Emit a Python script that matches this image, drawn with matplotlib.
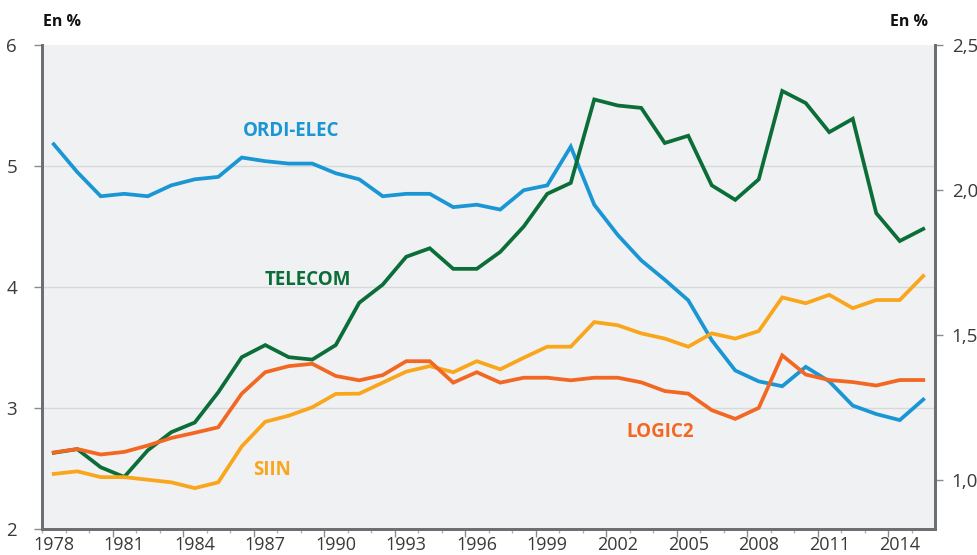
import matplotlib
matplotlib.use("Agg")
import matplotlib.pyplot as plt
from matplotlib.ticker import FixedLocator, FuncFormatter

plt.rcParams['font.family'] = ['Open Sans', 'DejaVu Sans']

years = list(range(1978, 2016))

ordi_elec = [5.18, 4.95, 4.75, 4.77, 4.75, 4.84, 4.89, 4.91, 5.07, 5.04, 5.02, 5.02,
             4.94, 4.89, 4.75, 4.77, 4.77, 4.66, 4.68, 4.64, 4.80, 4.84, 5.16, 4.68,
             4.43, 4.22, 4.06, 3.89, 3.56, 3.31, 3.22, 3.18, 3.34, 3.22, 3.02, 2.95,
             2.90, 3.07]
telecom = [2.63, 2.66, 2.51, 2.43, 2.65, 2.80, 2.88, 3.13, 3.42, 3.52, 3.42, 3.40,
           3.52, 3.87, 4.02, 4.25, 4.32, 4.15, 4.15, 4.29, 4.50, 4.77, 4.86, 5.55,
           5.50, 5.48, 5.19, 5.25, 4.84, 4.72, 4.89, 5.62, 5.52, 5.28, 5.39, 4.61,
           4.38, 4.48]
logic2 = [1.094, 1.106, 1.087, 1.096, 1.118, 1.144, 1.162, 1.181, 1.297, 1.371, 1.392, 1.400,
          1.358, 1.343, 1.361, 1.409, 1.409, 1.335, 1.371, 1.335, 1.352, 1.352, 1.343, 1.352,
          1.352, 1.336, 1.306, 1.297, 1.240, 1.210, 1.248, 1.429, 1.363, 1.344, 1.337, 1.325,
          1.344, 1.344]
siin = [1.020, 1.029, 1.009, 1.009, 1.000, 0.991, 0.971, 0.991, 1.115, 1.200, 1.221, 1.250,
        1.296, 1.297, 1.335, 1.373, 1.392, 1.371, 1.409, 1.381, 1.421, 1.459, 1.459, 1.544,
        1.533, 1.505, 1.487, 1.459, 1.505, 1.487, 1.513, 1.629, 1.609, 1.638, 1.592, 1.620,
        1.620, 1.703]

xtick_years = list(range(1978, 2016, 3))
left_ticks = [2, 3, 4, 5, 6]
right_ticks = [1.0, 1.5, 2.0, 2.5]

C_BLUE = '#1a96d5'
C_GREEN = '#0b6e38'
C_RED = '#f26722'
C_ORANGE = '#f9a61c'
C_SPINE = '#6d6e71'
C_TEXT = '#3a3a3a'

fig = plt.figure(figsize=(9.77, 5.55), dpi=100)
ax = fig.add_axes([42/977, 1-529/555, (935-42)/977, (529-45)/555])
ax.set_facecolor('#f0f1f3')
ax2 = ax.twinx()

ax.set_xlim(1977.5, 2015.5)
ax.set_ylim(2, 6)
ax2.set_ylim(0.83, 2.5)

lw = 2.7
ax.plot(years, ordi_elec, color=C_BLUE, lw=lw, solid_joinstyle='miter', zorder=3)
ax.plot(years, telecom, color=C_GREEN, lw=lw, solid_joinstyle='miter', zorder=3)
ax2.plot(years, siin, color=C_ORANGE, lw=lw, solid_joinstyle='miter', zorder=3)
ax2.plot(years, logic2, color=C_RED, lw=lw, solid_joinstyle='miter', zorder=3)

# grid
for v in [3, 4, 5]:
    ax.axhline(v, color='#d6d8db', lw=1.0, zorder=1)

# spines
for a in (ax, ax2):
    a.spines['top'].set_visible(False)
    for s in ('left', 'right', 'bottom'):
        a.spines[s].set_color(C_SPINE)
        a.spines[s].set_linewidth(2.0)

# x axis ticks: marks at year boundaries, labels at year centres
ax.xaxis.set_major_locator(FixedLocator([y - 0.5 for y in xtick_years[1:]]))
ax.xaxis.set_minor_locator(FixedLocator([y + 0.5 for y in range(1977, 2015)]))
ax.xaxis.set_major_formatter(FuncFormatter(lambda v, p: ''))
ax.tick_params(axis='x', which='major', length=6, width=1.0, color='#8a8b8d', direction='out')
ax.tick_params(axis='x', which='minor', length=3, width=1.0, color='#b0b1b3', direction='out')

secx = ax.secondary_xaxis('bottom')
secx.set_xticks(xtick_years)
secx.set_xticklabels([str(y) for y in xtick_years])
secx.tick_params(length=0, pad=5, labelsize=13, labelcolor=C_TEXT)
secx.spines['bottom'].set_visible(False)

# left y
ax.set_yticks(left_ticks)
ax.set_yticklabels([str(v) for v in left_ticks])
ax.tick_params(axis='y', length=6, width=1.0, color='#8a8b8d', pad=12,
               labelsize=13.5, labelcolor=C_TEXT)

# right y
ax2.set_yticks(right_ticks)
ax2.set_yticklabels([f"{v:.1f}".replace('.', ',') for v in right_ticks])
ax2.tick_params(axis='y', length=6, width=1.0, color='#8a8b8d', pad=6,
                labelsize=13.5, labelcolor=C_TEXT)

# unit labels
fig.text(43/977, 1-22/555, 'En %', ha='left', va='center', fontsize=11.5,
         fontweight='bold', color='#111111')
fig.text(928/977, 1-22/555, 'En %', ha='right', va='center', fontsize=11.5,
         fontweight='bold', color='#111111')

# series labels
def lab(x, y, s, c):
    fig.text(x/977, 1-y/555, s, ha='center', va='center', fontsize=13.5,
             fontweight='bold', color=c)

lab(291, 131, 'ORDI-ELEC', C_BLUE)
lab(308, 280, 'TELECOM', C_GREEN)
lab(660, 432, 'LOGIC2', C_RED)
lab(272, 470, 'SIIN', C_ORANGE)

fig.savefig('out.png', dpi=100)
